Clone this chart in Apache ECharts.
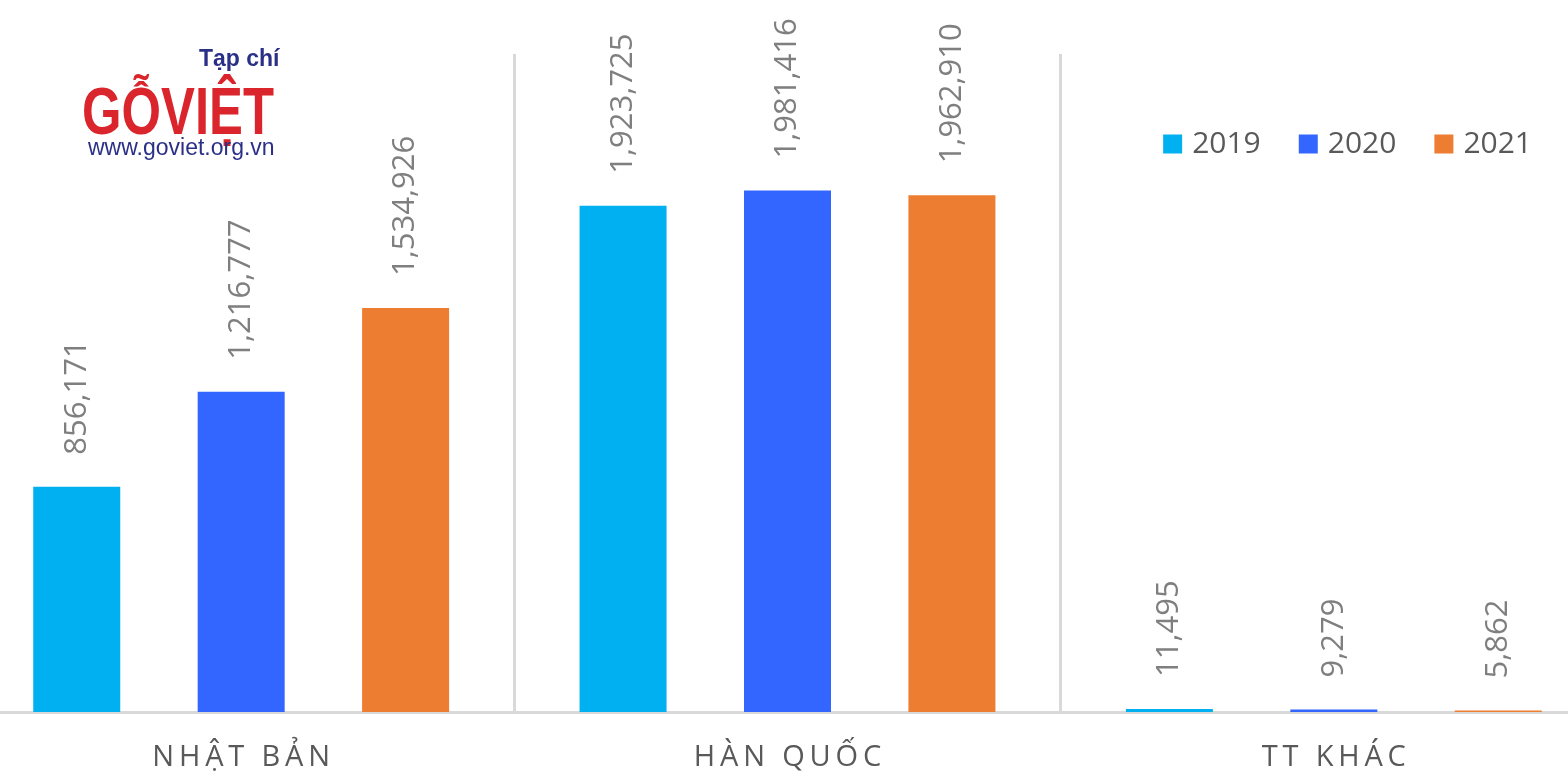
<!DOCTYPE html>
<html>
<head>
<meta charset="utf-8">
<script src="https://cdn.jsdelivr.net/npm/echarts@6/dist/echarts.min.js"></script>
<style>
html,body{margin:0;padding:0;background:#fff;overflow:hidden;width:1568px;height:782px;}
#chart{position:absolute;left:-32px;top:0;width:1639px;height:782px;}
</style>
</head>
<body>
<div id="chart"></div>
<script>
const categories = ['NHẬT BẢN', 'HÀN QUỐC', 'TT KHÁC'];
const years = ['2019', '2020', '2021'];
const values2019 = [856171, 1923725, 11495];
const values2020 = [1216777, 1981416, 9279];
const values2021 = [1534926, 1962910, 5862];
const colors = ['#00b0f0', '#3366ff', '#ed7d31'];
const yMax = 2500000;

const OFF = 32; // container is shifted left by this many px
const chart = echarts.init(document.getElementById('chart'));
const seriesData = [values2019, values2020, values2021];
const fmt = v => v.toLocaleString('en-US');

const option = {
  animation: false,
  backgroundColor: '#ffffff',
  textStyle: { fontFamily: 'Open Sans' },
  grid: { left: 0, right: 0, top: 54, bottom: 70, containLabel: false },
  legend: {
    data: years,
    right: 1639 - OFF - 1537,
    top: 124,
    itemWidth: 19,
    itemHeight: 19,
    itemGap: 38,
    icon: 'rect',
    textStyle: { fontSize: 30, color: '#595959', fontFamily: 'Open Sans', padding: [0, 0, 0, 5] }
  },
  xAxis: {
    type: 'category',
    data: categories,
    axisLine: { show: true, lineStyle: { color: '#d9d9d9', width: 3 } },
    axisTick: { show: false },
    splitLine: { show: true, lineStyle: { color: '#d9d9d9', width: 3 } },
    axisLabel: {
      margin: 31,
      fontSize: 29,
      color: '#595959',
      fontFamily: 'Open Sans',
      formatter: v => Array.from(v).join('\u2009')
    }
  },
  yAxis: {
    type: 'value',
    min: 0,
    max: yMax,
    show: false,
    splitLine: { show: false }
  },
  graphic: [
    { type: 'text', x: 199 + OFF, y: 48, style: { text: 'Tạp chí', fontSize: 23, fontWeight: 'bold', fontFamily: 'Liberation Sans', fill: '#2b3087', verticalAlign: 'top' } },
    { type: 'text', x: 82 + OFF, y: 116, scaleX: 0.77, style: { text: 'GỖVIỆT', fontSize: 66, fontWeight: 'bold', fontFamily: 'Liberation Sans', fill: '#d9252b', verticalAlign: 'middle' } },
    { type: 'text', x: 88 + OFF, y: 137, style: { text: 'www.goviet.org.vn', fontSize: 23, fontFamily: 'Liberation Sans', fill: '#2b3087', verticalAlign: 'top' } }
  ],
  series: years.map((y, i) => ({
    name: y,
    type: 'bar',
    data: seriesData[i],
    barWidth: 87,
    barGap: '89%',
    itemStyle: { color: colors[i] },
    label: {
      show: true,
      position: 'top',
      rotate: 90,
      align: 'left',
      verticalAlign: 'middle',
      distance: 32,
      fontSize: 31,
      color: '#7f7f7f',
      fontFamily: 'Open Sans',
      formatter: p => fmt(p.value)
    }
  }))
};
chart.setOption(option);
</script>
</body>
</html>
